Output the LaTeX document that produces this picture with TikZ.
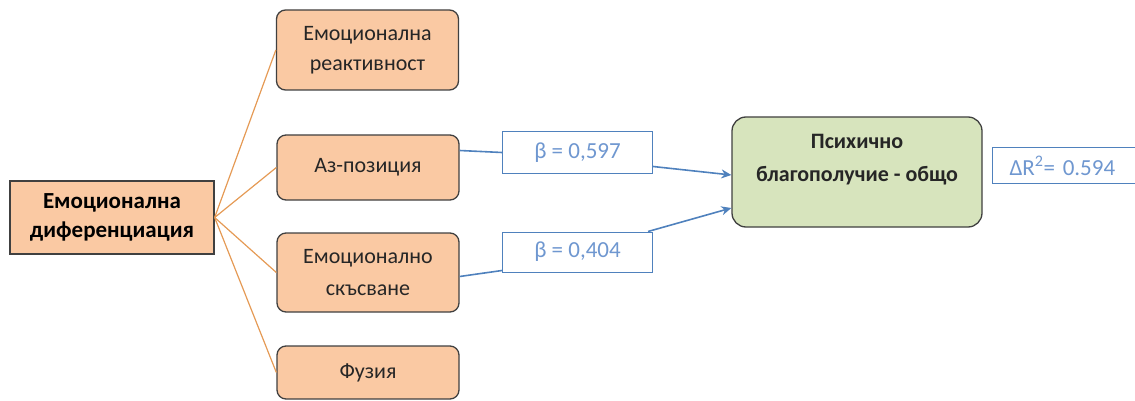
\documentclass[tikz,border=0pt]{standalone}
\usepackage{fontspec}
\setmainfont{Carlito}
\usetikzlibrary{arrows.meta}

\definecolor{peach}{HTML}{FAC9A3}
\definecolor{boxline}{HTML}{404040}
\definecolor{orangeline}{HTML}{E59A55}
\definecolor{blueline}{HTML}{4F81BD}
\definecolor{betatext}{HTML}{6F97D0}
\definecolor{greenfill}{HTML}{D7E4BD}

\begin{document}
\begin{tikzpicture}[x=1pt,y=-1pt]

	% style of the boxes
	\tikzstyle{factor}=[draw=boxline,fill=peach,rounded corners=9pt,line width=1.3pt,
		minimum width=182pt,align=center,inner sep=2pt,text=black!85]
	\tikzstyle{coef}=[draw=blueline,fill=white,line width=1pt,minimum width=150pt,
		text=betatext,font=\fontsize{23}{26}\selectfont]
	\tikzstyle{orange edge}=[draw=orangeline,line width=1.2pt]
	\tikzstyle{blue edge}=[draw=blueline,line width=1.6pt]

	\useasboundingbox (0,0) rectangle (1135,401);

	\node [draw=boxline,fill=peach,line width=1.3pt,minimum width=204pt,minimum height=73pt,
		align=center,font=\fontsize{23}{29}\selectfont\bfseries] (diff) at (112,217.5)
		{Емоционална\\диференциация};

	\node [factor,minimum height=80pt,font=\fontsize{22}{30}\selectfont] (react) at (367.5,50)
		{Емоционална\\реактивност};
	\node [factor,minimum height=65pt,font=\fontsize{22}{30}\selectfont] (azpos) at (368,167.5)
		{Аз-позиция};
	\node [factor,minimum height=79pt,font=\fontsize{22}{32}\selectfont] (cutoff) at (368,272.5)
		{Емоционално\\скъсване};
	\node [factor,minimum height=53pt,font=\fontsize{22}{30}\selectfont] (fusion) at (368,372.5)
		{Фузия};

	\node [coef,minimum height=41pt] (beta1) at (577.5,152.5) {β = 0,597};
	\node [coef,minimum height=40pt] (beta2) at (577.5,252) {β = 0,404};

	\node [draw=boxline,fill=greenfill,rounded corners=14pt,line width=1.3pt,minimum width=250pt,
		minimum height=110pt,align=center,text depth=28pt,text=black!85,
		font=\fontsize{22}{33}\selectfont\bfseries] (wellb) at (857,172)
		{Психично\\благополучие - общо};

	\node [coef,anchor=west,minimum width=153pt,minimum height=35pt,text width=119pt,
		align=left,inner xsep=17pt] (deltar) at (992,165.5) {ΔR\textsuperscript{2}= 0.594};

	% fan of the dimensions
	\foreach \dim in {react,azpos,cutoff,fusion}
		\draw [orange edge] (diff.east) -- (\dim.west);

	% paths to the outcome
	\draw [blue edge] ([yshift=17pt]azpos.east) -- (beta1.west);
	\draw [blue edge] ([yshift=-4pt]cutoff.east) -- ([yshift=2pt]beta2.south west);
	\draw [blue edge,-{Stealth[length=10pt,width=9pt]}] ([yshift=-14pt]beta1.east) -- ([yshift=-3pt]wellb.west);
	\draw [blue edge,-{Stealth[length=10pt,width=9pt]}] ([xshift=-5pt]beta2.north east) -- ([yshift=-36pt]wellb.west);

\end{tikzpicture}
\end{document}
